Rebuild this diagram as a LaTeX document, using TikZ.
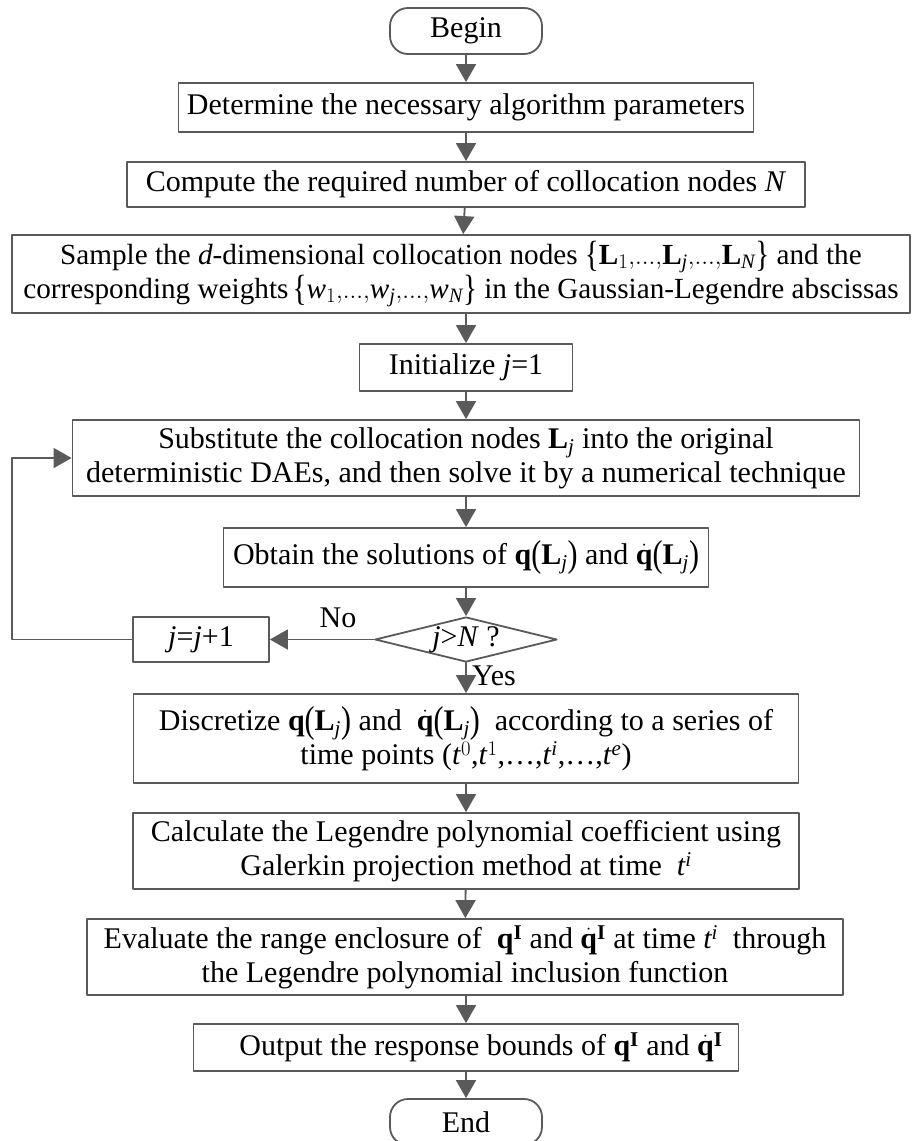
\documentclass[tikz,border=0pt]{standalone}
\usepackage{fontspec}
\usepackage{graphicx}
\setmainfont{Liberation Serif}
\setmathrm{Liberation Serif}
\usetikzlibrary{shapes.geometric,arrows.meta}
\definecolor{lncol}{RGB}{90,90,90}
\begin{document}
\begin{tikzpicture}[x=1pt,y=-1pt,line cap=round,line join=round,
        font=\fontsize{30}{34}\selectfont,
        box/.style={draw=lncol,line width=1.8pt,inner sep=0pt,align=center},
        term/.style={box,rounded corners=18pt,minimum width=152pt,minimum height=46pt},
        decision/.style={box,diamond,aspect=4,minimum width=182pt,minimum height=45pt},
        arr/.style={draw=lncol,line width=1.8pt,-{Triangle[length=18pt,width=20pt,fill=lncol]}}]
    \useasboundingbox (0,0) rectangle (911,1141);
    \def\Lj{\mathbf{L}_{\mathit{j}}} % collocation node
    \def\tl{\raisebox{-2pt}{\scalebox{1}[1.25]{(}}}
    \def\tr{\raisebox{-2pt}{\scalebox{1}[1.25]{)}}}
    \def\bl{\raisebox{-2pt}{\scalebox{1}[1.25]{\{}}}
    \def\br{\raisebox{-2pt}{\scalebox{1}[1.25]{\}}}}
    \def\qL{\mathbf{q}\tl\Lj\tr}
    \def\dqL{\dot{\mathbf{q}}\tl\Lj\tr}
    \node[term] (begin) at (466,31) {Begin};
    \node[box,minimum width=575pt,minimum height=49pt] (param) at (466,107.5)
        {Determine the necessary algorithm parameters};
    \node[box,minimum width=678pt,minimum height=45pt] (num) at (466,184.5)
        {Compute the required number of collocation nodes \textit{N}};
    \node[box,minimum width=898pt,minimum height=78pt,font=\fontsize{29.2}{34}\selectfont] (sample) at (461,274)
        {Sample the \textit{d}-dimensional collocation nodes $\bl\mathbf{L}_1{,}...{,}\Lj{,}...{,}\mathbf{L}_{\mathit{N}}\br$ and the\\
         corresponding weights$\,\bl\mathit{w}_1{,}...{,}\mathit{w}_{\mathit{j}}{,}...{,}\mathit{w}_{\mathit{N}}\br$ in the Gaussian-Legendre abscissas};
    \node[box,minimum width=213pt,minimum height=47pt] (init) at (466,367.5) {Initialize \textit{j}=1};
    \node[box,minimum width=787pt,minimum height=76pt] (subst) at (466,458)
        {Substitute the collocation nodes $\Lj$ into the original\\
         deterministic DAEs, and then solve it by a numerical technique};
    \node[box,minimum width=485pt,minimum height=59pt] (obtain) at (466,557.5)
        {Obtain the solutions of $\qL$ and $\dqL$};
    \node[decision] (check) at (466,639.5) {\textit{j}>\textit{N} ?};
    \node[box,minimum width=136pt,minimum height=45pt] (jinc) at (201,639.5) {\textit{j}=\textit{j}+1};
    \node[box,minimum width=665pt,minimum height=89pt] (discr) at (466,738.5)
        {Discretize $\qL$ and \ $\dqL$ \ according to a series of\\
         time points (\textit{t}$^0$,\textit{t}$^1$,\ldots,\textit{t}$^{\mathit{i}}$,\ldots,\textit{t}$^{\mathit{e}}$)};
    \node[box,minimum width=666pt,minimum height=76pt] (calc) at (466,851)
        {Calculate the Legendre polynomial coefficient using\\
         Galerkin projection method at time \ $\mathit{t}^{\mathit{i}}$};
    \node[box,minimum width=756pt,minimum height=76pt] (eval) at (465,957)
        {Evaluate the range enclosure of \ $\mathbf{q}^{\mathbf{I}}$ and $\dot{\mathbf{q}}^{\mathbf{I}}$ at time $\mathit{t}^{\mathit{i}}$ \ through\\
         the Legendre polynomial inclusion function};
    \node[box,minimum width=545pt,minimum height=47pt] (output) at (466,1047.5)
        {\hspace*{30pt}Output the response bounds of $\mathbf{q}^{\mathbf{I}}$ and $\dot{\mathbf{q}}^{\mathbf{I}}$};
    \node[term] (end) at (466,1122) {End};
    \node (no) at (338,618) {No};
    \node[anchor=west,inner sep=0pt] (yes) at (472,676) {Yes};
    \coordinate (lp) at (12,639.5);
    % main flow
    \draw[arr] (begin) -- (param);
    \draw[arr] (param) -- (num);
    \draw[arr] (num) -- (sample);
    \draw[arr] (sample.south -| init) -- (init);
    \draw[arr] (init) -- (subst);
    \draw[arr] (subst) -- (obtain);
    \draw[arr] (obtain) -- (check);
    \draw[arr] (check) -- (discr);
    \draw[arr] (discr) -- (calc);
    \draw[arr] (calc) -- (eval);
    \draw[arr] (eval.south -| output) -- (output);
    \draw[arr] (output) -- (end);
    % loop back
    \draw[arr] (check) -- (jinc);
    \draw[arr] (jinc) -- (lp) |- (subst.west);
\end{tikzpicture}
\end{document}
